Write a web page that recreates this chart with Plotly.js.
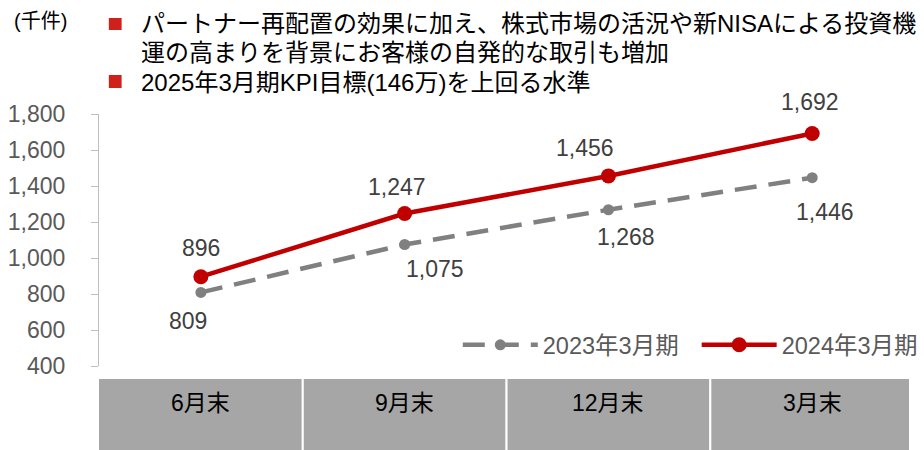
<!DOCTYPE html>
<html><head><meta charset="utf-8">
<script src="https://cdn.plot.ly/plotly-3.0.1.min.js"></script>
<style>html,body{margin:0;padding:0;background:#fff}#chart{width:924px;height:450px}</style>
</head><body><div id="chart"></div>
<script>
const categories = ['6月末', '9月末', '12月末', '3月末'];
const seriesNames = ['2023年3月期', '2024年3月期'];
const values2023 = [809, 1075, 1268, 1446];
const values2024 = [896, 1247, 1456, 1692];
const yTicks = [400, 600, 800, 1000, 1200, 1400, 1600, 1800];
const unitLabel = '(千件)';
const noteLines = [
  'パートナー再配置の効果に加え、株式市場の活況や新NISAによる投資機',
  '運の高まりを背景にお客様の自発的な取引も増加',
  '2025年3月期KPI目標(146万)を上回る水準'
];

// label offsets (px) – styling only
const off2024 = [[0, 29], [-8, 27], [-23, 28], [-2, 31]];
const off2023 = [[-13, -29], [30, -24], [18, -27], [13, -34]];

const FONT = 'Liberation Sans, Arial, Noto Sans CJK JP, sans-serif';
const W = 924, H = 450, L = 99, R = 1, T = 114, B = 84;
const pw = W - L - R, ph = H - T - B;
const px = x => (x - L) / pw;
const py = y => (H - B - y) / ph;

const traces = [
  {x: categories, y: values2023, name: seriesNames[0], type: 'scatter', mode: 'lines+markers',
   line: {color: '#808080', width: 4.5, dash: '22px,12px'}, marker: {color: '#808080', size: 11},
   cliponaxis: false, hoverinfo: 'skip', legend: 'legend'},
  {x: categories, y: values2024, name: seriesNames[1], type: 'scatter', mode: 'lines+markers',
   line: {color: '#c00000', width: 4.5}, marker: {color: '#c00000', size: 15},
   cliponaxis: false, hoverinfo: 'skip', legend: 'legend2'}
];

const annotations = [];
const fmt = v => v.toLocaleString('en-US');
const labelFont = {family: FONT, size: 23, color: '#404040'};
values2024.forEach((v, i) => annotations.push({x: categories[i], y: v, xref: 'x', yref: 'y', text: fmt(v),
  showarrow: false, xshift: off2024[i][0], yshift: off2024[i][1], font: labelFont}));
values2023.forEach((v, i) => annotations.push({x: categories[i], y: v, xref: 'x', yref: 'y', text: fmt(v),
  showarrow: false, xshift: off2023[i][0], yshift: off2023[i][1], font: labelFont}));

const shapes = [];
categories.forEach((c, i) => {
  shapes.push({type: 'rect', xref: 'x', yref: 'paper', x0: i - 0.5 - (i === 0 ? 0.025 : 0), x1: i + 0.5,
    y0: py(378), y1: py(452), fillcolor: '#a6a6a6', line: {color: '#ffffff', width: 2}, layer: 'below'});
  annotations.push({x: c, y: py(418), xref: 'x', yref: 'paper', text: c, showarrow: false,
    font: {family: FONT, size: 23, color: '#000000'}});
});

// bullets
[[18, 30], [75, 88]].forEach(([y0, y1]) => shapes.push({type: 'rect', xref: 'paper', yref: 'paper',
  x0: px(109), x1: px(122), y0: py(y1), y1: py(y0), fillcolor: '#d0201c', line: {width: 0}}));

annotations.push({x: px(10), y: py(21), xref: 'paper', yref: 'paper', xanchor: 'left', yanchor: 'middle',
  text: unitLabel, showarrow: false, font: {family: FONT, size: 20, color: '#000'}});
const noteY = [24, 52, 82];
noteLines.forEach((t, i) => annotations.push({x: px(140), y: py(noteY[i]), xref: 'paper', yref: 'paper',
  xanchor: 'left', yanchor: 'middle', align: 'left', text: t, showarrow: false,
  font: {family: FONT, size: 24, color: '#000'}}));

const legendBase = {orientation: 'h', xanchor: 'left', yanchor: 'middle', y: py(345),
  font: {family: FONT, size: 23.5, color: '#595959'}, itemwidth: 75, bgcolor: 'rgba(0,0,0,0)'};

const layout = {
  width: W, height: H, margin: {l: L, r: R, t: T, b: B},
  paper_bgcolor: '#fff', plot_bgcolor: '#fff',
  font: {family: FONT},
  showlegend: true,
  legend: Object.assign({}, legendBase, {x: px(464)}),
  legend2: Object.assign({}, legendBase, {x: px(707)}),
  xaxis: {type: 'category', range: [-0.5, 3.475], showticklabels: false, showgrid: false, zeroline: false,
    showline: false, ticks: ''},
  yaxis: {range: [400, 1800], tickvals: yTicks, ticktext: yTicks.map(fmt), showgrid: false, zeroline: false,
    showline: true, linecolor: '#bfbfbf', linewidth: 1, ticks: 'outside', ticklen: 7, tickcolor: '#bfbfbf',
    ticklabelstandoff: 21, tickfont: {family: FONT, size: 23, color: '#595959'}},
  shapes: shapes, annotations: annotations
};

Plotly.newPlot('chart', traces, layout, {staticPlot: true});
</script></body></html>
